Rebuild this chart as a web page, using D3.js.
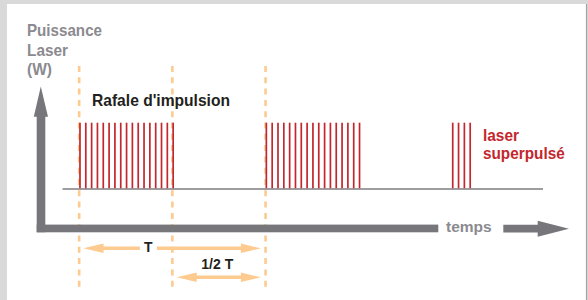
<!DOCTYPE html>
<meta charset="utf-8">
<style>
body { margin: 0; background: #fff; }
svg text { font-family: "Liberation Sans Narrow", "Liberation Sans", Arial, sans-serif; font-weight: bold; }
</style>
<body>
<svg width="588" height="300"></svg>
<script src="https://cdn.jsdelivr.net/npm/d3@7"></script>
<script>

// pulse times (in pulse periods) for each burst
var burst1 = [0, 1, 2, 3, 4, 5, 6, 7, 8, 9, 10, 11, 12, 13, 14, 15, 16];
var burst2 = [32, 33, 34, 35, 36, 37, 38, 39, 40, 41, 42, 43, 44, 45, 46, 47, 48];
var burst3 = [64, 65, 66, 67];
var peakPower = 1;

// dashed guides at the start / middle / next start of the cycle
var guides = [0, 16, 32];

// time spans shown below the axis
var spanFrom = [0, 16];
var spanTo = [32, 32];
var spanLabels = ["T", "1/2 T"];
var spanLabelAt = [12, 24];

var yLabel = ["Puissance", "Laser", "(W)"];
var xLabel = "temps";
var burstLabel = "Rafale d'impulsion";
var seriesLabel = ["laser", "superpulsé"];

var svg = d3.select("svg");

var axisGrey = "#77767b",
    textGrey = "#8b8a8f",
    red = "#c4262e",
    orange = "#fdca90";

// squeeze a label to the width it has in the print version
function fit(sel, w) {
  sel.attr("textLength", w).attr("lengthAdjust", "spacingAndGlyphs");
}

// frame behind the panel
svg.append("rect").attr("width", 588).attr("height", 300).attr("fill", "#d9d9d9");
svg.append("rect").attr("x", 7).attr("y", 4).attr("width", 579).attr("height", 296).attr("fill", "#fff");
svg.append("line").attr("x1", 586.5).attr("x2", 586.5).attr("y1", 4).attr("y2", 300)
    .attr("stroke", "#a4a4a4").attr("stroke-width", 1.2);

// scales
var x = d3.scaleLinear().domain([-3, 79.5]).range([62.5, 543]);
var y = d3.scaleLinear().domain([0, peakPower]).range([189, 122.7]);

var g = svg.append("g");

// dashed orange guides
g.selectAll(".guide")
    .data(guides)
  .enter().append("line")
    .attr("class", "guide")
    .attr("x1", function(d) { return x(d) - 0.8; })
    .attr("x2", function(d) { return x(d) - 0.8; })
    .attr("y1", 66)
    .attr("y2", 291)
    .attr("stroke", orange)
    .attr("stroke-width", 2.6)
    .attr("stroke-dasharray", "6,5.3");

// baseline (zero power)
g.append("line")
    .attr("x1", x.range()[0]).attr("x2", x.range()[1])
    .attr("y1", y(0)).attr("y2", y(0))
    .attr("stroke", "#7e7e80")
    .attr("stroke-width", 1.5);

// pulses
var pulses = burst1.concat(burst2, burst3);
g.selectAll(".pulse")
    .data(pulses)
  .enter().append("line")
    .attr("class", "pulse")
    .attr("x1", function(d) { return x(d); })
    .attr("x2", function(d) { return x(d); })
    .attr("y1", y(0) - 0.7)
    .attr("y2", y(peakPower))
    .attr("stroke", red)
    .attr("stroke-width", 1.7);

// big grey axes with arrows
var ax = svg.append("g").attr("fill", axisGrey);
// vertical
ax.append("path")
    .attr("d", "M36.7,232.3 L45.3,232.3 L45.3,116.7 L48,116.7 L40.8,86.5 L33.8,116.7 L36.7,116.7 Z");
// horizontal, split around the label
ax.append("rect").attr("x", 36.7).attr("y", 224.6).attr("width", 438.3 - 36.7).attr("height", 7.7);
ax.append("path")
    .attr("d", "M503.3,224.8 L537.7,224.8 L537.7,220.7 L569,228.7 L537.7,236.7 L537.7,232.4 L503.3,232.4 Z");

svg.append("text")
    .attr("x", 446).attr("y", 232.3)
    .attr("fill", textGrey)
    .style("font-size", "15.5px")
    .text(xLabel)
    .call(fit, 45.7);

// y label
var yWidths = [75, 41, 25];
svg.append("g").selectAll("text")
    .data(yLabel)
  .enter().append("text")
    .attr("x", 27)
    .attr("y", function(d, i) { return 36 + i * 19.6; })
    .attr("fill", textGrey)
    .style("font-size", "17px")
    .attr("textLength", function(d, i) { return yWidths[i]; })
    .attr("lengthAdjust", "spacingAndGlyphs")
    .text(function(d) { return d; });

// burst label
svg.append("text")
    .attr("x", 92).attr("y", 106)
    .attr("fill", "#231f20")
    .style("font-size", "16.5px")
    .text(burstLabel)
    .call(fit, 138);

// series label
var sWidths = [36, 81.7];
svg.append("g").selectAll("text")
    .data(seriesLabel)
  .enter().append("text")
    .attr("x", 483)
    .attr("y", function(d, i) { return 140.5 + i * 18.8; })
    .attr("fill", red)
    .style("font-size", "16.5px")
    .attr("textLength", function(d, i) { return sWidths[i]; })
    .attr("lengthAdjust", "spacingAndGlyphs")
    .text(function(d) { return d; });

// span arrows
var spans = spanFrom.map(function(d, i) {
  return {from: d, to: spanTo[i], label: spanLabels[i], at: spanLabelAt[i]};
});
var spanY = [248.3, 277.3],
    labelY = [252, 268.5],
    labelW = [8.5, 32];

function arrowHead(tipX, cy, dir) {
  var len = 20, h = 4.8;
  return "M" + tipX + "," + cy +
         "L" + (tipX + dir * len) + "," + (cy - h) +
         "L" + (tipX + dir * len) + "," + (cy + h) + "Z";
}

spans.forEach(function(s, i) {
  var x0 = x(s.from) + 3.5,
      x1 = x(s.to) - 5.5,
      cy = spanY[i];
  var sg = svg.append("g");
  if (i === 0) {
    // line broken around the label
    var gapL = x(s.at) - 10, gapR = x(s.at) + 7;
    sg.append("line").attr("x1", x0 + 10).attr("x2", gapL).attr("y1", cy).attr("y2", cy);
    sg.append("line").attr("x1", gapR).attr("x2", x1 - 10).attr("y1", cy).attr("y2", cy);
  } else {
    sg.append("line").attr("x1", x0 + 10).attr("x2", x1 - 10).attr("y1", cy).attr("y2", cy);
  }
  sg.selectAll("line").attr("stroke", orange).attr("stroke-width", 3.6);
  sg.append("path").attr("d", arrowHead(x0, cy, 1)).attr("fill", orange);
  sg.append("path").attr("d", arrowHead(x1, cy, -1)).attr("fill", orange);

  svg.append("text")
      .attr("x", x(s.at) - (i === 0 ? 1.5 : 2.5))
      .attr("y", labelY[i])
      .attr("text-anchor", "middle")
      .attr("fill", "#231f20")
      .style("font-size", "14px")
      .text(s.label)
      .call(fit, labelW[i]);
});

</script>
</body>
